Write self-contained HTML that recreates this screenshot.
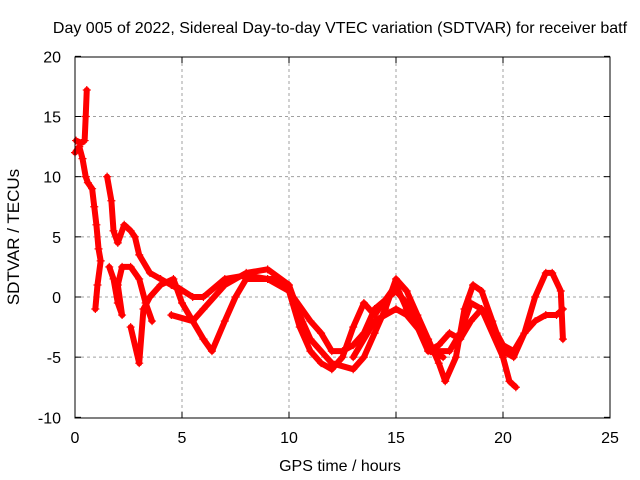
<!DOCTYPE html>
<html><head><meta charset="utf-8"><style>
body{margin:0;background:#fff}
svg{display:block;font-family:"Liberation Sans",sans-serif;font-size:16px}
</style></head><body>
<svg id="c" width="640" height="480">
<text x="340" y="33" text-anchor="middle">Day 005 of 2022, Sidereal Day-to-day VTEC variation (SDTVAR) for receiver batf</text>
<text x="340" y="471" text-anchor="middle">GPS time / hours</text>
<text transform="translate(19,237) rotate(-90)" text-anchor="middle" style="font-size:17px">SDTVAR / TECUs</text>
<g id="grid"></g><g id="marks"></g>
<rect x="75" y="57" width="535" height="361" fill="none" stroke="#000"/>
</svg>
<script>
const xTicks=[0,5,10,15,20,25];
const yTicks=[-10,-5,0,5,10,15,20];
const track1=[[0,12],[0.2,12.5],[0.35,11.5],[0.5,10],[0.6,9.5],[0.8,9],[0.9,7.5],[1.0,6],[1.1,4],[1.2,3],[1.05,1],[0.95,-1]];
const track2=[[0.05,13],[0.3,12.8],[0.45,13],[0.5,15],[0.55,17.2]];
const track3=[[1.5,10],[1.7,8],[1.8,5.5],[2.0,4.5],[2.3,6],[2.6,5.5],[2.8,5],[3.0,3.5],[3.5,2],[4.0,1.5],[4.5,1],[5.0,0.5]];
const track4=[[1.6,2.5],[1.8,1.5],[2.0,-0.5],[2.2,-1.5],[2.0,1],[2.2,2.5],[2.6,2.5],[3.0,1.5],[3.3,-0.5],[3.6,-2]];
const trackA=[[2.6,-2.5],[3.0,-5.5],[3.2,-1],[3.5,0],[4.0,1],[4.6,1.5],[5.0,-0.5],[5.5,-2],[6.0,-1],[7,1],[8,2],[9,2.3],[10,1.0],[10.5,-1.5],[11,-3.5],[12,-5.5],[13,-6],[13.5,-5],[14,-3],[14.5,-1],[15,1.5],[15.5,0.5],[16,-1.5],[16.5,-3.5],[17,-5.5],[17.3,-7],[17.8,-5],[18.2,-1],[18.6,1],[19,0.5],[19.5,-2],[20,-4.5],[20.5,-5],[21,-3],[21.5,0],[22,2],[22.3,2],[22.7,0.5],[22.8,-3.5]];
const trackB=[[4.5,-1.5],[5.5,-2],[6,-3.5],[6.4,-4.5],[7,-2],[7.5,0],[8,1.5],[9,1.5],[9.5,1.5],[10,0.5],[10.5,-2.5],[11,-4.5],[11.5,-5.5],[12,-6],[12.5,-5],[13,-2.5],[13.5,-0.5],[14,-1.5],[15,1],[15.5,-1],[16.5,-4],[17,-4.5],[17.5,-4.5],[18,-3],[18.5,-0.5],[19,-1],[20,-5],[20.3,-7],[20.6,-7.5]];
const trackC=[[4.8,0.8],[5.5,0],[6,0],[7,1.5],[8,1.8],[9,1.5],[10,0.5],[11,-2],[11.5,-3],[12,-4.5],[12.5,-4.5],[13,-4],[13.5,-3],[14,-1],[15,0.5],[15.5,-0.5],[16,-2.5],[16.5,-4.5],[17,-4],[17.5,-3],[18,-3.5],[18.5,-2],[19,-1],[19.7,-3],[20,-4],[20.5,-4.5],[21,-3],[21.5,-2],[22,-1.5],[22.5,-1.5],[22.8,-1]];
const trackD=[[13,-5],[14,-2],[15,-1],[15.5,-1.5],[16.2,-3],[16.6,-4.5],[17.2,-5]];
const tracks=[track1,track2,track3,track4,trackA,trackB,trackC,trackD];
const X=v=>75+v*21.4, Y=v=>297-v*12.033;
const NS="http://www.w3.org/2000/svg";
const g=document.getElementById('grid'), m=document.getElementById('marks');
function mk(t,a,p){const e=document.createElementNS(NS,t);for(const k in a)e.setAttribute(k,a[k]);p.appendChild(e);return e;}
xTicks.forEach(v=>{
 if(v>0&&v<25){const l=mk('line',{x1:X(v),x2:X(v),y1:57,y2:418,stroke:'#a0a0a0','stroke-dasharray':'3,3'},g);
 
 }
 mk('line',{x1:X(v),x2:X(v),y1:418,y2:412,stroke:'#000'},g);
 mk('line',{x1:X(v),x2:X(v),y1:57,y2:63,stroke:'#000'},g);
 const t=mk('text',{x:X(v),y:443,'text-anchor':'middle'},g);t.textContent=v;
 
 
});
yTicks.forEach(v=>{
 if(v>-10&&v<20){const l=mk('line',{x1:75,x2:610,y1:Y(v),y2:Y(v),stroke:'#a0a0a0','stroke-dasharray':'3,3'},g);
 
 }
 mk('line',{x1:75,x2:81,y1:Y(v),y2:Y(v),stroke:'#000'},g);
 mk('line',{x1:604,x2:610,y1:Y(v),y2:Y(v),stroke:'#000'},g);
 const t=mk('text',{x:61,y:Y(v)+6,'text-anchor':'end'},g);t.textContent=v;
 
 
});
tracks.forEach(tr=>{
 const p=mk('polyline',{points:tr.map(d=>X(d[0])+','+Y(d[1])).join(' '),fill:'none',stroke:'#ff0000','stroke-width':6,'stroke-linejoin':'round','stroke-linecap':'round'},m);
 
 
 tr.forEach(d=>{
  const c=mk('path',{d:`M${X(d[0])-4},${Y(d[1])}h8M${X(d[0])},${Y(d[1])-4}v8`,stroke:'#ff0000','stroke-width':1.2},m);
  
  
 });
});
</script>
</body></html>
